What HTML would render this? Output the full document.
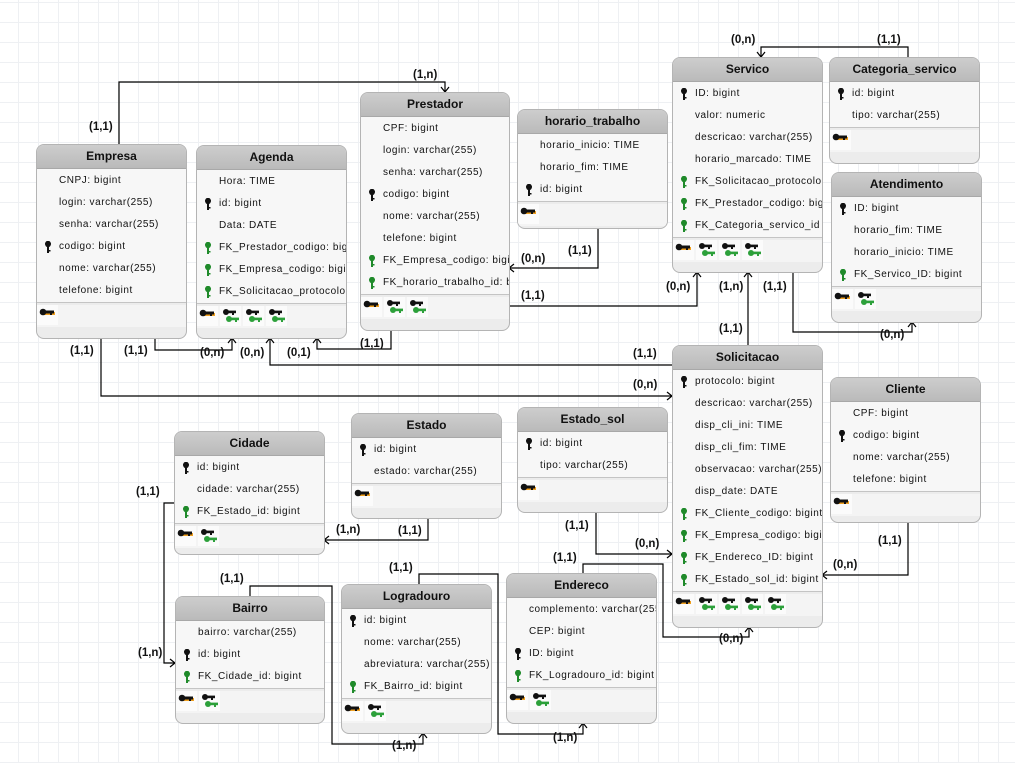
<!DOCTYPE html>
<html><head><meta charset="utf-8"><style>
body{margin:0;width:1015px;height:763px;overflow:hidden;background:#fff;
background-image:linear-gradient(#eef0f3 1px,transparent 1px),linear-gradient(90deg,#eef0f3 1px,transparent 1px);background-size:20px 20px;background-position:-2px 2px;
font-family:"Liberation Sans",sans-serif;position:relative}
.t{position:absolute;border:1px solid #b4b4b4;border-radius:8px;background:#ececec;overflow:hidden;box-sizing:border-box}
.h{height:23px;line-height:23px;text-align:center;font-weight:bold;font-size:12px;color:#111;background:linear-gradient(#cdcdcd,#bababa);border-bottom:1px solid #a8a8a8}
.b{background:#f7f7f7;padding-top:1px;border-bottom:1px solid #c4c4c4}
.r{height:22px;line-height:22px;font-size:10px;color:#111;white-space:nowrap;overflow:hidden;padding-left:22px;position:relative;letter-spacing:0.55px}
.r svg{position:absolute;left:8px;top:5px}
.ic{height:22px;background:#f4f4f4;margin-top:2px;display:flex}
.ic div{width:21px;height:20px;background:#fbfbfb;margin-right:2px;position:relative}
.ic svg{position:absolute;left:2px;top:3px}
.lb{position:absolute;font-size:11.5px;font-weight:bold;color:#111}
svg.c{position:absolute;left:0;top:0}
</style></head><body>
<svg class="c" width="1015" height="763" fill="none" stroke="#000" stroke-width="1.2">
<polyline points="119,144 119,82 445,82 445,92"/><polyline points="441,87 445,92 449,87"/>
<polyline points="155,338 155,350 232,350 232,338"/><polyline points="228,343 232,338 236,343"/>
<polyline points="101,338 101,396 672,396"/><polyline points="667,392 672,396 667,400"/>
<polyline points="672,365 270,365 270,338"/><polyline points="266,343 270,338 274,343"/>
<polyline points="391,330 391,349 317,349 317,338"/><polyline points="313,343 317,338 321,343"/>
<polyline points="598,228 598,268 509,268"/><polyline points="514,264 509,268 514,272"/>
<polyline points="509,306 697,306 697,272"/><polyline points="693,277 697,272 701,277"/>
<polyline points="748,345 748,272"/><polyline points="744,277 748,272 752,277"/>
<polyline points="793,272 793,332 912,332 912,322"/><polyline points="908,327 912,322 916,327"/>
<polyline points="908,57 908,47 761,47 761,57"/><polyline points="757,52 761,57 765,52"/>
<polyline points="908,522 908,575 822,575"/><polyline points="827,571 822,575 827,579"/>
<polyline points="596,512 596,554 672,554"/><polyline points="667,550 672,554 667,558"/>
<polyline points="428,518 428,540 324,540"/><polyline points="329,536 324,540 329,544"/>
<polyline points="174,503 164,503 164,663 175,663"/><polyline points="170,659 175,663 170,667"/>
<polyline points="250,596 250,586 332,586 332,744 423,744 423,733"/><polyline points="419,738 423,733 427,738"/>
<polyline points="419,584 419,574 498,574 498,734 583,734 583,723"/><polyline points="579,728 583,723 587,728"/>
<polyline points="583,573 583,564 663,564 663,637 749,637 749,627"/><polyline points="745,632 749,627 753,632"/>
</svg>

<svg width="0" height="0" style="position:absolute"><defs>
<g id="pk"><ellipse cx="3" cy="3" rx="3" ry="3.2" fill="#111"/><rect x="2" y="5" width="2" height="7" fill="#111"/><rect x="4" y="9" width="1.5" height="1.5" fill="#111"/></g>
<g id="fk"><ellipse cx="3" cy="3" rx="3" ry="3.2" fill="#1f8a2a"/><rect x="2" y="5" width="2" height="7" fill="#1f8a2a"/><rect x="4" y="9" width="1.5" height="1.5" fill="#1f8a2a"/></g>
<g id="ok"><rect x="3" y="4" width="13" height="3" fill="#f0a020"/><circle cx="4" cy="4" r="3.3" fill="#111"/><rect x="4" y="2.5" width="11" height="3" fill="#111"/><rect x="11" y="5" width="2" height="2" fill="#111"/></g>
<g id="bg"><circle cx="4" cy="3" r="3" fill="#111"/><rect x="4" y="1.6" width="10" height="2.6" fill="#111"/><rect x="10" y="4" width="2" height="2" fill="#111"/><circle cx="7" cy="10" r="3" fill="#2ca03a"/><rect x="7" y="8.6" width="10" height="2.6" fill="#2ca03a"/><rect x="13" y="11" width="2" height="2" fill="#2ca03a"/></g>
</defs></svg>

<div class="t" style="left:36px;top:144px;width:151px;height:195px"><div class="h">Empresa</div><div class="b">
<div class="r">CNPJ: bigint</div><div class="r">login: varchar(255)</div><div class="r">senha: varchar(255)</div>
<div class="r"><svg width="7" height="12"><use href="#pk"/></svg>codigo: bigint</div><div class="r">nome: varchar(255)</div><div class="r">telefone: bigint</div></div>
<div class="ic"><div><svg width="18" height="14"><use href="#ok"/></svg></div></div></div>

<div class="t" style="left:196px;top:145px;width:151px;height:194px"><div class="h">Agenda</div><div class="b">
<div class="r">Hora: TIME</div><div class="r"><svg width="7" height="12"><use href="#pk"/></svg>id: bigint</div><div class="r">Data: DATE</div>
<div class="r"><svg width="7" height="12"><use href="#fk"/></svg>FK_Prestador_codigo: bigint</div>
<div class="r"><svg width="7" height="12"><use href="#fk"/></svg>FK_Empresa_codigo: bigint</div>
<div class="r"><svg width="7" height="12"><use href="#fk"/></svg>FK_Solicitacao_protocolo</div></div>
<div class="ic"><div><svg width="18" height="14"><use href="#ok"/></svg></div><div><svg width="18" height="14"><use href="#bg"/></svg></div><div><svg width="18" height="14"><use href="#bg"/></svg></div><div><svg width="18" height="14"><use href="#bg"/></svg></div></div></div>

<div class="t" style="left:360px;top:92px;width:150px;height:239px"><div class="h">Prestador</div><div class="b">
<div class="r">CPF: bigint</div><div class="r">login: varchar(255)</div><div class="r">senha: varchar(255)</div>
<div class="r"><svg width="7" height="12"><use href="#pk"/></svg>codigo: bigint</div><div class="r">nome: varchar(255)</div><div class="r">telefone: bigint</div>
<div class="r"><svg width="7" height="12"><use href="#fk"/></svg>FK_Empresa_codigo: bigint</div>
<div class="r"><svg width="7" height="12"><use href="#fk"/></svg>FK_horario_trabalho_id: bigint</div></div>
<div class="ic"><div><svg width="18" height="14"><use href="#ok"/></svg></div><div><svg width="18" height="14"><use href="#bg"/></svg></div><div><svg width="18" height="14"><use href="#bg"/></svg></div></div></div>

<div class="t" style="left:517px;top:109px;width:151px;height:120px"><div class="h">horario_trabalho</div><div class="b">
<div class="r">horario_inicio: TIME</div><div class="r">horario_fim: TIME</div><div class="r"><svg width="7" height="12"><use href="#pk"/></svg>id: bigint</div></div>
<div class="ic"><div><svg width="18" height="14"><use href="#ok"/></svg></div></div></div>

<div class="t" style="left:672px;top:57px;width:151px;height:216px"><div class="h">Servico</div><div class="b">
<div class="r"><svg width="7" height="12"><use href="#pk"/></svg>ID: bigint</div><div class="r">valor: numeric</div><div class="r">descricao: varchar(255)</div><div class="r">horario_marcado: TIME</div>
<div class="r"><svg width="7" height="12"><use href="#fk"/></svg>FK_Solicitacao_protocolo</div>
<div class="r"><svg width="7" height="12"><use href="#fk"/></svg>FK_Prestador_codigo: bigint</div>
<div class="r"><svg width="7" height="12"><use href="#fk"/></svg>FK_Categoria_servico_id</div></div>
<div class="ic"><div><svg width="18" height="14"><use href="#ok"/></svg></div><div><svg width="18" height="14"><use href="#bg"/></svg></div><div><svg width="18" height="14"><use href="#bg"/></svg></div><div><svg width="18" height="14"><use href="#bg"/></svg></div></div></div>

<div class="t" style="left:829px;top:57px;width:151px;height:107px"><div class="h">Categoria_servico</div><div class="b">
<div class="r"><svg width="7" height="12"><use href="#pk"/></svg>id: bigint</div><div class="r">tipo: varchar(255)</div></div>
<div class="ic"><div><svg width="18" height="14"><use href="#ok"/></svg></div></div></div>

<div class="t" style="left:831px;top:172px;width:151px;height:151px"><div class="h">Atendimento</div><div class="b">
<div class="r"><svg width="7" height="12"><use href="#pk"/></svg>ID: bigint</div><div class="r">horario_fim: TIME</div><div class="r">horario_inicio: TIME</div>
<div class="r"><svg width="7" height="12"><use href="#fk"/></svg>FK_Servico_ID: bigint</div></div>
<div class="ic"><div><svg width="18" height="14"><use href="#ok"/></svg></div><div><svg width="18" height="14"><use href="#bg"/></svg></div></div></div>

<div class="t" style="left:672px;top:345px;width:151px;height:283px"><div class="h">Solicitacao</div><div class="b">
<div class="r"><svg width="7" height="12"><use href="#pk"/></svg>protocolo: bigint</div><div class="r">descricao: varchar(255)</div><div class="r">disp_cli_ini: TIME</div><div class="r">disp_cli_fim: TIME</div>
<div class="r">observacao: varchar(255)</div><div class="r">disp_date: DATE</div>
<div class="r"><svg width="7" height="12"><use href="#fk"/></svg>FK_Cliente_codigo: bigint</div>
<div class="r"><svg width="7" height="12"><use href="#fk"/></svg>FK_Empresa_codigo: bigint</div>
<div class="r"><svg width="7" height="12"><use href="#fk"/></svg>FK_Endereco_ID: bigint</div>
<div class="r"><svg width="7" height="12"><use href="#fk"/></svg>FK_Estado_sol_id: bigint</div></div>
<div class="ic"><div><svg width="18" height="14"><use href="#ok"/></svg></div><div><svg width="18" height="14"><use href="#bg"/></svg></div><div><svg width="18" height="14"><use href="#bg"/></svg></div><div><svg width="18" height="14"><use href="#bg"/></svg></div><div><svg width="18" height="14"><use href="#bg"/></svg></div></div></div>

<div class="t" style="left:830px;top:377px;width:151px;height:146px"><div class="h">Cliente</div><div class="b">
<div class="r">CPF: bigint</div><div class="r"><svg width="7" height="12"><use href="#pk"/></svg>codigo: bigint</div><div class="r">nome: varchar(255)</div><div class="r">telefone: bigint</div></div>
<div class="ic"><div><svg width="18" height="14"><use href="#ok"/></svg></div></div></div>

<div class="t" style="left:351px;top:413px;width:151px;height:106px"><div class="h">Estado</div><div class="b">
<div class="r"><svg width="7" height="12"><use href="#pk"/></svg>id: bigint</div><div class="r">estado: varchar(255)</div></div>
<div class="ic"><div><svg width="18" height="14"><use href="#ok"/></svg></div></div></div>

<div class="t" style="left:517px;top:407px;width:151px;height:106px"><div class="h">Estado_sol</div><div class="b">
<div class="r"><svg width="7" height="12"><use href="#pk"/></svg>id: bigint</div><div class="r">tipo: varchar(255)</div></div>
<div class="ic"><div><svg width="18" height="14"><use href="#ok"/></svg></div></div></div>

<div class="t" style="left:174px;top:431px;width:151px;height:124px"><div class="h">Cidade</div><div class="b">
<div class="r"><svg width="7" height="12"><use href="#pk"/></svg>id: bigint</div><div class="r">cidade: varchar(255)</div>
<div class="r"><svg width="7" height="12"><use href="#fk"/></svg>FK_Estado_id: bigint</div></div>
<div class="ic"><div><svg width="18" height="14"><use href="#ok"/></svg></div><div><svg width="18" height="14"><use href="#bg"/></svg></div></div></div>

<div class="t" style="left:175px;top:596px;width:150px;height:128px"><div class="h">Bairro</div><div class="b">
<div class="r">bairro: varchar(255)</div><div class="r"><svg width="7" height="12"><use href="#pk"/></svg>id: bigint</div>
<div class="r"><svg width="7" height="12"><use href="#fk"/></svg>FK_Cidade_id: bigint</div></div>
<div class="ic"><div><svg width="18" height="14"><use href="#ok"/></svg></div><div><svg width="18" height="14"><use href="#bg"/></svg></div></div></div>

<div class="t" style="left:341px;top:584px;width:151px;height:150px"><div class="h">Logradouro</div><div class="b">
<div class="r"><svg width="7" height="12"><use href="#pk"/></svg>id: bigint</div><div class="r">nome: varchar(255)</div><div class="r">abreviatura: varchar(255)</div>
<div class="r"><svg width="7" height="12"><use href="#fk"/></svg>FK_Bairro_id: bigint</div></div>
<div class="ic"><div><svg width="18" height="14"><use href="#ok"/></svg></div><div><svg width="18" height="14"><use href="#bg"/></svg></div></div></div>

<div class="t" style="left:506px;top:573px;width:151px;height:151px"><div class="h">Endereco</div><div class="b">
<div class="r">complemento: varchar(255)</div><div class="r">CEP: bigint</div><div class="r"><svg width="7" height="12"><use href="#pk"/></svg>ID: bigint</div>
<div class="r"><svg width="7" height="12"><use href="#fk"/></svg>FK_Logradouro_id: bigint</div></div>
<div class="ic"><div><svg width="18" height="14"><use href="#ok"/></svg></div><div><svg width="18" height="14"><use href="#bg"/></svg></div></div></div>

<div class="lb" style="left:89px;top:121px">(1,1)</div>
<div class="lb" style="left:413px;top:69px">(1,n)</div>
<div class="lb" style="left:70px;top:345px">(1,1)</div>
<div class="lb" style="left:124px;top:345px">(1,1)</div>
<div class="lb" style="left:200px;top:347px">(0,n)</div>
<div class="lb" style="left:240px;top:347px">(0,n)</div>
<div class="lb" style="left:287px;top:347px">(0,1)</div>
<div class="lb" style="left:360px;top:338px">(1,1)</div>
<div class="lb" style="left:633px;top:348px">(1,1)</div>
<div class="lb" style="left:633px;top:379px">(0,n)</div>
<div class="lb" style="left:568px;top:245px">(1,1)</div>
<div class="lb" style="left:521px;top:253px">(0,n)</div>
<div class="lb" style="left:521px;top:290px">(1,1)</div>
<div class="lb" style="left:666px;top:281px">(0,n)</div>
<div class="lb" style="left:719px;top:281px">(1,n)</div>
<div class="lb" style="left:763px;top:281px">(1,1)</div>
<div class="lb" style="left:719px;top:323px">(1,1)</div>
<div class="lb" style="left:880px;top:329px">(0,n)</div>
<div class="lb" style="left:877px;top:34px">(1,1)</div>
<div class="lb" style="left:731px;top:34px">(0,n)</div>
<div class="lb" style="left:878px;top:535px">(1,1)</div>
<div class="lb" style="left:833px;top:559px">(0,n)</div>
<div class="lb" style="left:565px;top:520px">(1,1)</div>
<div class="lb" style="left:635px;top:538px">(0,n)</div>
<div class="lb" style="left:398px;top:525px">(1,1)</div>
<div class="lb" style="left:336px;top:524px">(1,n)</div>
<div class="lb" style="left:136px;top:486px">(1,1)</div>
<div class="lb" style="left:138px;top:647px">(1,n)</div>
<div class="lb" style="left:220px;top:573px">(1,1)</div>
<div class="lb" style="left:392px;top:740px">(1,n)</div>
<div class="lb" style="left:389px;top:562px">(1,1)</div>
<div class="lb" style="left:553px;top:732px">(1,n)</div>
<div class="lb" style="left:553px;top:552px">(1,1)</div>
<div class="lb" style="left:719px;top:633px">(0,n)</div>
</body></html>
